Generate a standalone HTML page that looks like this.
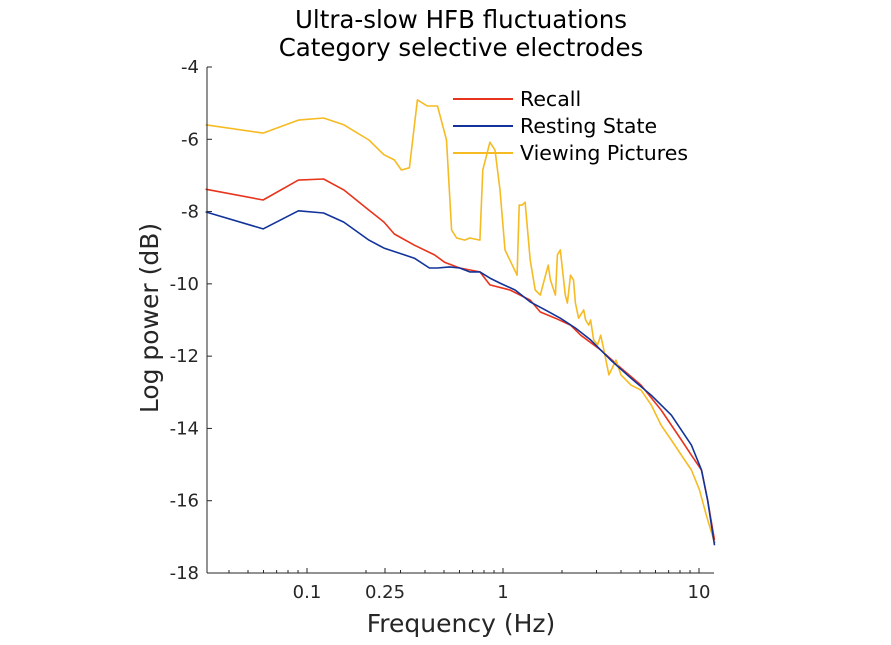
<!DOCTYPE html>
<html><head><meta charset="utf-8"><style>
body{margin:0;background:#fff;}
svg{display:block;font-family:"DejaVu Sans","Liberation Sans",sans-serif;}
</style></head><body>
<svg id="chart" width="891" height="645" viewBox="0 0 891 645" xmlns="http://www.w3.org/2000/svg">
<rect width="891" height="645" fill="#fff"/>
<text x="461" y="28" text-anchor="middle" font-size="24.5" fill="#000">Ultra-slow HFB fluctuations</text>
<text x="461" y="56" text-anchor="middle" font-size="24.5" fill="#000">Category selective electrodes</text>
<g id="series"></g>
<g id="axes"></g>
<text x="461" y="632" text-anchor="middle" font-size="25" fill="#262626">Frequency (Hz)</text>
<text transform="translate(158,318) rotate(-90)" text-anchor="middle" font-size="25" fill="#262626">Log power (dB)</text>
<g>
<line x1="453" y1="99" x2="513" y2="99" stroke="#e8341c" stroke-width="2"/>
<text x="520" y="106" font-size="20.5" fill="#000">Recall</text>
<line x1="453" y1="126" x2="513" y2="126" stroke="#12339a" stroke-width="2"/>
<text x="520" y="133" font-size="20.5" fill="#000">Resting State</text>
<line x1="453" y1="153" x2="513" y2="153" stroke="#f6bb22" stroke-width="2"/>
<text x="520" y="160" font-size="20.5" fill="#000">Viewing Pictures</text>
</g>
</svg>
<script>
const xTicks=[0.1,0.25,1,10];
const xTickLabels=["0.1","0.25","1","10"];
const xMinorTicks=[0.04,0.05,0.06,0.07,0.08,0.09,0.2,0.3,0.4,0.5,0.6,0.7,0.8,0.9,2,3,4,5,6,7,8,9];
const yTicks=[-4,-6,-8,-10,-12,-14,-16,-18];
const recallF=[0.0304,0.0597,0.0904,0.1216,0.154,0.207,0.247,0.279,0.353,0.447,0.503,0.601,0.762,0.857,1.086,1.377,1.55,1.85,2.21,2.49,3.15,4.0,5.06,6.41,8.13,9.15,10.3,11.06,12.0];
const recallV=[-7.38,-7.68,-7.13,-7.10,-7.40,-7.96,-8.29,-8.62,-8.93,-9.20,-9.40,-9.56,-9.67,-10.03,-10.17,-10.45,-10.78,-10.95,-11.14,-11.42,-11.83,-12.33,-12.80,-13.49,-14.32,-14.74,-15.15,-15.98,-17.09];
const restF=[0.0304,0.0597,0.0904,0.1216,0.154,0.207,0.247,0.295,0.353,0.421,0.463,0.534,0.601,0.676,0.762,0.857,0.965,1.153,1.377,1.644,1.96,2.34,2.80,3.55,4.50,5.70,7.22,9.15,10.3,11.06,12.0];
const restV=[-8.01,-8.48,-7.98,-8.04,-8.29,-8.79,-9.01,-9.15,-9.29,-9.56,-9.56,-9.53,-9.56,-9.67,-9.67,-9.84,-9.98,-10.17,-10.50,-10.72,-10.95,-11.22,-11.55,-12.11,-12.61,-13.08,-13.63,-14.46,-15.15,-15.98,-17.23];
const viewF=[0.0304,0.0597,0.0904,0.1216,0.154,0.207,0.247,0.279,0.303,0.333,0.366,0.411,0.463,0.515,0.547,0.580,0.638,0.676,0.762,0.789,0.857,0.910,0.965,1.024,1.180,1.21,1.253,1.297,1.377,1.46,1.55,1.70,1.745,1.85,1.895,1.96,2.08,2.13,2.21,2.29,2.34,2.43,2.58,2.64,2.74,2.80,2.90,3.04,3.15,3.27,3.47,3.77,4.0,4.5,5.06,5.7,6.41,7.22,8.13,9.15,10.06,10.9,11.9,12.1];
const viewV=[-5.60,-5.83,-5.47,-5.41,-5.60,-6.02,-6.43,-6.57,-6.85,-6.79,-4.91,-5.08,-5.08,-6.02,-8.51,-8.73,-8.79,-8.73,-8.79,-6.85,-6.08,-6.30,-7.40,-9.06,-9.76,-7.82,-7.82,-7.74,-9.34,-10.17,-10.31,-9.48,-9.89,-10.31,-9.20,-9.06,-10.31,-10.53,-9.76,-9.89,-10.53,-10.95,-10.72,-11.0,-11.14,-11.0,-11.55,-11.69,-11.42,-11.83,-12.52,-12.11,-12.52,-12.80,-12.94,-13.35,-13.91,-14.32,-14.74,-15.15,-15.70,-16.40,-17.09,-17.17];

const NS="http://www.w3.org/2000/svg";
const X0=207,X1=714,Y0=67,Y1=573;
const DEC=196, X01=307;
function xs(f){return X01+(Math.log10(f)+1)*DEC;}
function ys(v){return Y0+(-4-v)*(Y1-Y0)/14;}
function mk(t,a,p){const e=document.createElementNS(NS,t);for(const k in a)e.setAttribute(k,a[k]);p.appendChild(e);return e;}
const ax=document.getElementById('axes');
const ser=document.getElementById('series');
function drawLine(F,V,col,name){
  let d='';for(let i=0;i<F.length;i++){d+=(i?'L':'M')+xs(F[i]).toFixed(1)+','+ys(V[i]).toFixed(1);}
  const p=mk('path',{d:d,fill:'none',stroke:col,'stroke-width':1.6,'stroke-linejoin':'round'},ser);
  
  
}
drawLine(recallF,recallV,'#e8341c','line-recall');
drawLine(viewF,viewV,'#f6bb22','line-viewing-pictures');
drawLine(restF,restV,'#12339a','line-resting-state');
mk('line',{x1:X0,y1:Y1,x2:X1,y2:Y1,stroke:'#262626','stroke-width':1},ax);
mk('line',{x1:X0,y1:Y0,x2:X0,y2:Y1,stroke:'#262626','stroke-width':1},ax);
xTicks.forEach((t,i)=>{
  const x=xs(t);
  mk('line',{x1:x,y1:Y1,x2:x,y2:Y1-5,stroke:'#262626'},ax);
  const tx=mk('text',{x:x,y:Y1+25,'text-anchor':'middle','font-size':18,fill:'#262626'},ax);
  tx.textContent=xTickLabels[i];
  
  
});
xMinorTicks.forEach(t=>{const x=xs(t);mk('line',{x1:x,y1:Y1,x2:x,y2:Y1-3,stroke:'#262626'},ax);});
yTicks.forEach(t=>{
  const y=ys(t);
  mk('line',{x1:X0,y1:y,x2:X0+5,y2:y,stroke:'#262626'},ax);
  const tx=mk('text',{x:X0-8,y:y+6,'text-anchor':'end','font-size':18,fill:'#262626'},ax);
  tx.textContent=String(t);
  
  
});
</script>
</body></html>
